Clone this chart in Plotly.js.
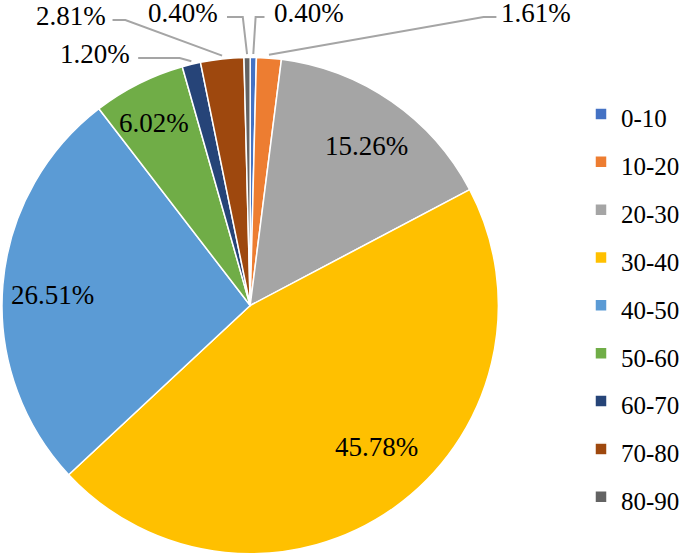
<!DOCTYPE html>
<html>
<head>
<meta charset="utf-8">
<script src="https://cdn.plot.ly/plotly-3.0.1.min.js"></script>
<style>
  html, body { margin: 0; padding: 0; background: #fff; }
  #pie { width: 685px; height: 560px; }
</style>
</head>
<body>
<div id="pie"></div>
<script>
// PIE CHART - share of each range
var labels = ['0-10', '10-20', '20-30', '30-40', '40-50', '50-60', '60-70', '70-80', '80-90'];
var shares = [0.40, 1.61, 15.26, 45.78, 26.51, 6.02, 1.20, 2.81, 0.40];
var colors = ['#4472C4', '#ED7D31', '#A5A5A5', '#FFC000', '#5B9BD5', '#70AD47', '#264478', '#9E480E', '#636363'];

var SERIF = 'Liberation Serif';

// where each percentage label sits (pixels), and the leader line for the small ones
// [x, y, anchor, elbowX, endX]  (leader runs 4px below the text middle)
var labelPos = [
  [276, 13, 'left', 259, 268],
  [506, 13, 'left', 490, 503],
  [371, 146, 'center'],
  [382, 446.5, 'center'],
  [53, 294.5, 'center'],
  [156, 122.5, 'center'],
  [134, 54, 'right', 182, 140],
  [109, 16, 'right', 127, 114],
  [223, 13, 'right', 246, 230]
];

var W = 685, H = 560;
var m = {l: 2, r: 0, t: 54, b: 3};
var pw = W - m.l - m.r, ph = H - m.t - m.b;
var side = Math.min(pw, ph);
var R = side / 2;
var cx = m.l + R, cy = m.t + R;

function px(x) { return (x - m.l) / pw; }
function py(y) { return 1 - (y - m.t) / ph; }

var total = shares.reduce(function (a, b) { return a + b; }, 0);
var annotations = [];
var shapes = [];
var cum = 0;
shares.forEach(function (v, i) {
  var mid = (cum + v / 2) / total * 2 * Math.PI;
  cum += v;
  var p = labelPos[i];
  annotations.push({
    xref: 'paper', yref: 'paper',
    x: px(p[0]), y: py(p[1]),
    xanchor: p[2], yanchor: 'middle',
    text: v.toFixed(2) + '%',
    showarrow: false,
    font: {family: SERIF, size: 27, color: '#000'}
  });
  if (p.length > 3) {
    var ex = cx + R * Math.sin(mid), ey = cy - R * Math.cos(mid);
    var ly = p[1] + 4;
    shapes.push({
      type: 'path', xref: 'paper', yref: 'paper',
      path: 'M' + px(ex) + ',' + py(ey) + ' L' + px(p[3]) + ',' + py(ly) + ' L' + px(p[4]) + ',' + py(ly),
      line: {color: '#A5A5A5', width: 2}
    });
  }
});

var trace = {
  type: 'pie',
  labels: labels.map(function (l) { return '<span style="font-size:25px">' + l + '</span>'; }),
  values: shares,
  sort: false,
  direction: 'clockwise',
  rotation: 0,
  textinfo: 'none',
  hoverinfo: 'skip',
  marker: {colors: colors, line: {color: '#fff', width: 1.5}},
  domain: {x: [0, side / pw], y: [0, 1]}
};

var layout = {
  width: W, height: H,
  margin: m,
  paper_bgcolor: '#fff',
  plot_bgcolor: '#fff',
  font: {family: SERIF, color: '#000'},
  showlegend: true,
  legend: {
    x: px(589), y: py(85), xanchor: 'left', yanchor: 'top',
    font: {family: SERIF, size: 34.5, color: '#000'},
    bgcolor: 'rgba(0,0,0,0)'
  },
  annotations: annotations,
  shapes: shapes
};

Plotly.newPlot('pie', [trace], layout, {displayModeBar: false, staticPlot: true});
</script>
</body>
</html>
